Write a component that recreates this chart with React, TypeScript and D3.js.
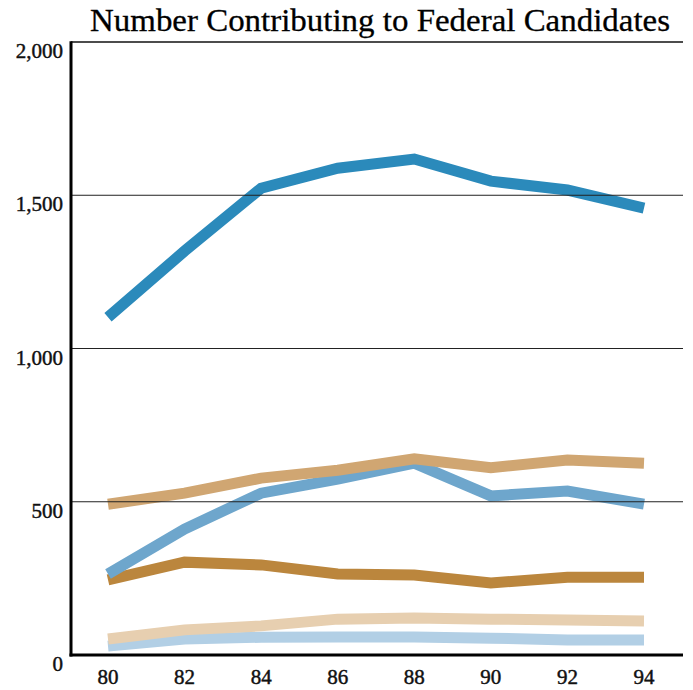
import * as d3 from 'd3';

const years = [80, 82, 84, 86, 88, 90, 92, 94];
const yTicks = [0, 500, 1000, 1500, 2000];

// series, drawn bottom to top
const lightBlue = [29, 52, 58, 59, 59, 55, 49, 49];
const lightTan = [52, 82, 95, 117, 121, 117, 114, 111];
const darkBrown = [245, 303, 294, 264, 261, 235, 254, 254];
const midBlue = [264, 411, 528, 574, 626, 519, 535, 492];
const tan = [492, 528, 577, 603, 640, 611, 636, 626];
const darkBlue = [1102, 1318, 1523, 1588, 1618, 1546, 1517, 1458];

const series = [
  { name: 'lightBlue', values: lightBlue, color: '#b2cfe5' },
  { name: 'lightTan', values: lightTan, color: '#e7cfb0' },
  { name: 'darkBrown', values: darkBrown, color: '#bb863d' },
  { name: 'midBlue', values: midBlue, color: '#6ea6cc' },
  { name: 'tan', values: tan, color: '#d0a672' },
  { name: 'darkBlue', values: darkBlue, color: '#2b8abb' },
];

const W = 693;
const H = 690;
const axisX = 71;
const rightX = 683;
const font = '"Liberation Serif", "DejaVu Serif", serif';

export default function App() {
  const x = d3.scaleLinear().domain([80, 94]).range([108, 644]);
  const y = d3.scaleLinear().domain([0, 2000]).range([655, 42]);
  const line = d3.line<number>()
    .x((_, i) => x(years[i]))
    .y(d => y(d));

  return (
    <svg width={W} height={H} style={{ position: 'absolute', left: 0, top: 0, background: '#fff' }}>
      <text x={380} y={31} textAnchor="middle" fontFamily={font} fontSize={32} fill="#000"
        stroke="#000" strokeWidth={0.3}
        textLength={580} lengthAdjust="spacingAndGlyphs">
        Number Contributing to Federal Candidates
      </text>

      {series.map(s => (
        <path key={s.name} d={line(s.values) || ''} fill="none" stroke={s.color}
          strokeWidth={11} strokeLinecap="butt" strokeLinejoin="miter" />
      ))}

      {yTicks.filter(t => t > 0 && t < 2000).map(t => (
        <line key={t} x1={axisX} x2={rightX} y1={y(t)} y2={y(t)} stroke="#222" strokeWidth={1} />
      ))}
      <line x1={axisX} x2={rightX} y1={y(2000)} y2={y(2000)} stroke="#111" strokeWidth={1.5} />
      <line x1={axisX} x2={axisX} y1={y(2000) - 0.75} y2={y(0) + 1.5} stroke="#000" strokeWidth={3} />
      <line x1={axisX - 1.5} x2={rightX} y1={y(0)} y2={y(0)} stroke="#000" strokeWidth={3} />

      {yTicks.map(t => (
        <text key={t} x={63} y={y(t) + 16} textAnchor="end" fontFamily={font} fontSize={21}
          stroke="#111" strokeWidth={0.45} fill="#111">
          {d3.format(',')(t)}
        </text>
      ))}
      {years.map(yr => (
        <text key={yr} x={x(yr)} y={684} textAnchor="middle" fontFamily={font} fontSize={21}
          stroke="#111" strokeWidth={0.45} fill="#111">
          {yr}
        </text>
      ))}
    </svg>
  );
}
